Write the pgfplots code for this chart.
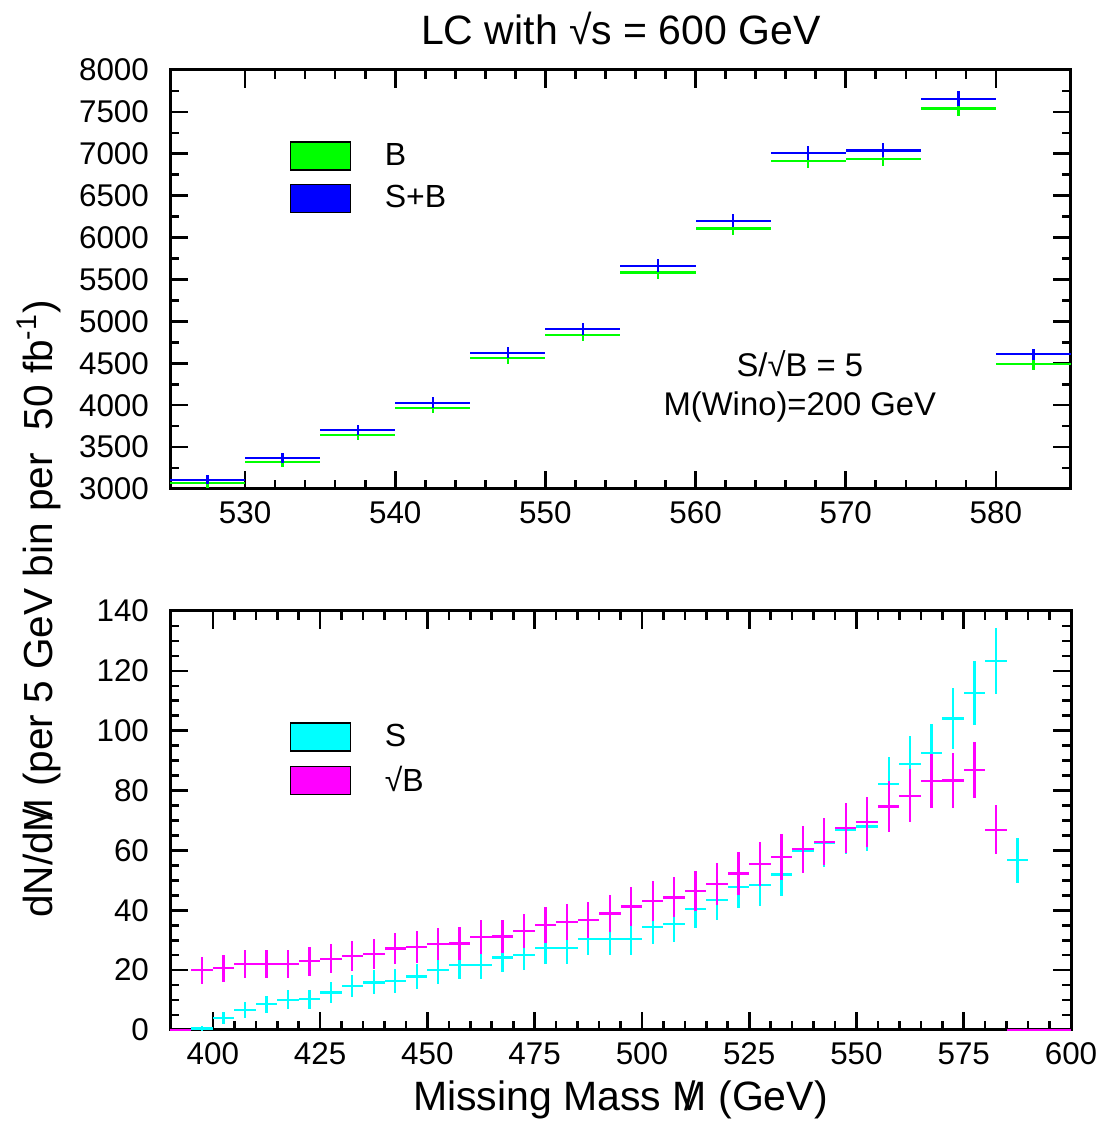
\documentclass[border=0pt]{standalone}
\usepackage{pgfplots}
\pgfplotsset{compat=1.18}
\usepackage{fontspec}
\setmainfont{Liberation Sans}

\definecolor{hgreen}{RGB}{0,255,0}
\definecolor{hblue}{RGB}{0,0,255}
\definecolor{hcyan}{RGB}{0,255,255}
\definecolor{hmagenta}{RGB}{255,0,255}

\newcommand{\mslash}{\ooalign{M\cr\hidewidth/\hidewidth}}

\pgfplotsset{
  lcax/.style={scale only axis, width=450.5pt, height=209.5pt,
    axis line style={line width=1.5pt},
    every tick/.style={black, line width=1.3pt},
    major tick length=8.8pt, minor tick length=4.5pt, tick align=inside,
    xtick pos=both, ytick pos=both, xticklabel pos=lower, yticklabel pos=left,
    ticklabel style={font=\fontsize{15.7}{18}\selectfont},
    /pgf/number format/assume math mode=true,
    /pgf/number format/1000 sep={}, scaled ticks=false,
    yticklabel style={xshift=-7pt}, xticklabel style={yshift=-3pt},
    legend image code/.code={\draw[##1, draw=black, line width=0.6pt] (0pt,-7pt) rectangle (30pt,7pt); \path[draw=none, fill=none] (0pt,0pt) -- (45pt,0pt);},
    legend style={draw=none, fill=none, inner sep=0pt, row sep=4.5pt,
      font=\fontsize{16}{19}\selectfont, nodes={anchor=west}},
  },
  hbar/.style={draw=none, no markers, forget plot,
    error bars/.cd, x dir=both, x fixed=2.5, y dir=both, y explicit,
    error mark=none, error bar style={line width=1.15pt, draw=#1}},
}

\begin{document}
\begin{tikzpicture}
\path[use as bounding box] (0,0) rectangle (551pt,562.5pt);

% top panel: B and S+B
\begin{axis}[lcax, at={(85pt,318pt)}, anchor=south west,
  xmin=525, xmax=585, ymin=3000, ymax=8000,
  xtick={530,540,...,580}, minor x tick num=4,
  ytick={3000,3500,...,8000}, minor y tick num=1,
  legend style={at={(0.133,0.835)}, anchor=north west}]
\addplot[hbar={hgreen}] table[x=x, y=y, y error=e] {
x y e
527.5 3068 55.4
532.5 3322 57.6
537.5 3644 60.4
542.5 3970 63.0
547.5 4559 67.5
552.5 4837 69.5
557.5 5585 74.7
562.5 6110 78.2
567.5 6917 83.2
572.5 6940 83.3
577.5 7541 86.8
582.5 4491 67.0
};
\addplot[hbar={hblue}] table[x=x, y=y, y error=e] {
x y e
527.5 3110 55.8
532.5 3373 58.1
537.5 3707 60.9
542.5 4030 63.5
547.5 4626 68.0
552.5 4909 70.1
557.5 5664 75.3
562.5 6201 78.7
567.5 7008 83.7
572.5 7040 83.9
577.5 7656 87.5
582.5 4607 67.9
};
\addlegendimage{fill=hgreen}
\addlegendentry{B}
\addlegendimage{fill=hblue}
\addlegendentry{S+B}
\node[font=\fontsize{16.4}{19}\selectfont] at (rel axis cs:0.699,0.3) {S/√B = 5};
\node[font=\fontsize{16.4}{19}\selectfont] at (rel axis cs:0.699,0.196) {M(Wino)=200 GeV};
\end{axis}

% bottom panel: S and sqrt(B)
\begin{axis}[lcax, at={(85pt,47.5pt)}, anchor=south west, clip=false,
  xmin=390, xmax=600, ymin=0, ymax=140,
  xtick={400,425,...,600}, minor x tick num=4,
  ytick={0,20,...,140}, minor y tick num=3,
  legend style={at={(0.133,0.740)}, anchor=north west}]
\addplot[hbar={hcyan}] table[x=x, y=y, y error=e] {
x y e
392.5 0 0
397.5 0.5 0.7
402.5 4.0 2.0
407.5 6.7 2.6
412.5 8.6 2.9
417.5 10.1 3.2
422.5 10.3 3.2
427.5 12.5 3.5
432.5 14.7 3.8
437.5 15.9 4.0
442.5 16.4 4.0
447.5 17.9 4.2
452.5 20.0 4.5
457.5 21.7 4.7
462.5 21.8 4.7
467.5 24.2 4.9
472.5 25.1 5.0
477.5 27.4 5.2
482.5 27.4 5.2
487.5 30.4 5.5
492.5 30.5 5.5
497.5 30.5 5.5
502.5 34.5 5.9
507.5 35.5 6.0
512.5 40.5 6.4
517.5 43.5 6.6
522.5 47.8 6.9
527.5 48.4 7.0
532.5 52.0 7.2
537.5 60.0 7.7
542.5 62.5 7.9
547.5 67.0 8.2
552.5 68.0 8.2
557.5 82.2 9.1
562.5 88.8 9.4
567.5 92.5 9.6
572.5 104.1 10.2
577.5 112.6 10.6
582.5 123.3 11.1
587.5 56.7 7.5
592.5 0 0
597.5 0 0
};
\addplot[hbar={hmagenta}] table[x=x, y=y, y error=e] {
x y e
392.5 0 0
397.5 20.0 4.5
402.5 20.6 4.5
407.5 22.1 4.7
412.5 22.1 4.7
417.5 22.1 4.7
422.5 23.0 4.8
427.5 23.8 4.9
432.5 24.8 5.0
437.5 25.5 5.0
442.5 27.2 5.2
447.5 27.7 5.3
452.5 28.7 5.4
457.5 28.9 5.4
462.5 31.1 5.6
467.5 31.2 5.6
472.5 33.0 5.7
477.5 35.1 5.9
482.5 36.2 6.0
487.5 36.8 6.1
492.5 38.9 6.2
497.5 41.3 6.4
502.5 43.1 6.6
507.5 44.3 6.7
512.5 46.4 6.8
517.5 48.7 7.0
522.5 52.3 7.2
527.5 55.5 7.4
532.5 57.8 7.6
537.5 60.4 7.8
542.5 62.9 7.9
547.5 67.5 8.2
552.5 69.6 8.3
557.5 74.7 8.6
562.5 78.3 8.8
567.5 83.2 9.1
572.5 83.4 9.1
577.5 86.9 9.3
582.5 66.9 8.2
587.5 0 0
592.5 0 0
597.5 0 0
};
\addlegendimage{fill=hcyan}
\addlegendentry{S}
\addlegendimage{fill=hmagenta}
\addlegendentry{√B}
\end{axis}

\node[font=\fontsize{20.5}{24}\selectfont, anchor=base] at (310.5pt,540pt) {LC with √s = 600 GeV};
\node[font=\fontsize{20.5}{24}\selectfont, anchor=base] at (310.25pt,7pt) {Missing Mass \mslash{} (GeV)};
\node[font=\fontsize{20.3}{24}\selectfont, anchor=base, rotate=90] at (26pt,258pt) {dN/d\mslash{} (per 5 GeV bin per \ 50 fb\textsuperscript{-1})};
\end{tikzpicture}
\end{document}
